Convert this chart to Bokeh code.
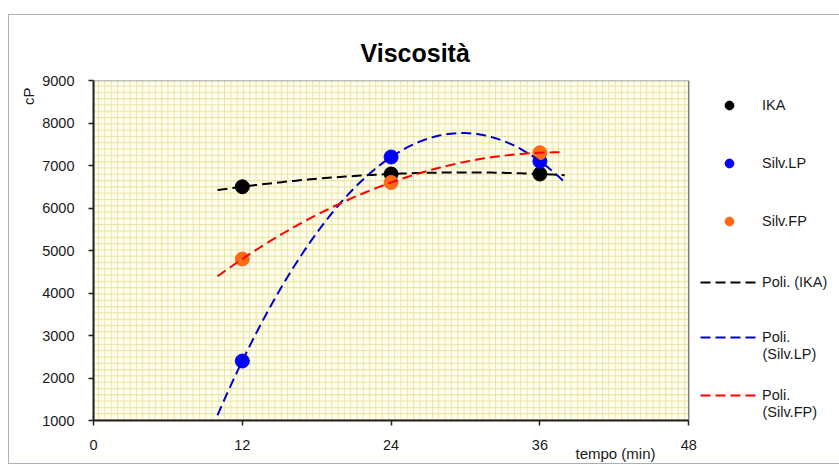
import numpy as np
from bokeh.plotting import figure
from bokeh.models import (Range1d, FixedTicker, Legend, LegendItem, Title, Label,
                          InlineStyleSheet)
from bokeh.embed import file_html
from bokeh.resources import INLINE

# ---- data ----
tempo = [12, 24, 36]
ika = [6500, 6800, 6800]
silv_lp = [2400, 7200, 7100]
silv_fp = [4800, 6600, 7300]
x_ticks = [0, 12, 24, 36, 48]
y_ticks = [1000, 2000, 3000, 4000, 5000, 6000, 7000, 8000, 9000]
series_names = ["IKA", "Silv.LP", "Silv.FP"]
trend_names = ["Poli. (IKA)", "Poli.", "Poli."]
trend_second_lines = ["", "(Silv.LP)", "(Silv.FP)"]
trend_span = [10, 38]

FONT = "Liberation Sans"
TXT = "#1a1a1a"
FRAME_L, FRAME_B = 93, 420   # canvas pixels of the frame's bottom-left corner

# frame extends to the right so the legend can live inside it;
# the axis itself is bounded to 0..48
p = figure(width=839, height=465, output_backend="svg", toolbar_location=None,
           x_range=Range1d(x_ticks[0], 60),
           y_range=Range1d(y_ticks[0], y_ticks[-1]),
           min_border_left=93, min_border_right=2,
           min_border_top=80, min_border_bottom=45)
p.background_fill_color = "white"
p.border_fill_color = "white"
p.grid.visible = False
p.outline_line_color = None

# thin outer chart border (decorative)
p.stylesheets = [InlineStyleSheet(css=(
    ":host::after { content: ''; position: absolute; left: 8px; top: 14px; "
    "right: -20px; bottom: 1px; border: 1px solid #A7B2BD; pointer-events: none; }"))]

# plot area with grid pattern
p.quad(left=[x_ticks[0]], right=[x_ticks[-1]], bottom=[y_ticks[0]], top=[y_ticks[-1]],
       fill_color="#FFFFF0", line_color="#808080", line_width=1.5, hatch_pattern="+",
       hatch_color="#E9E09A", hatch_scale=6.3, hatch_weight=1, hatch_alpha=0.9)

for ax in (p.xaxis[0], p.yaxis[0]):
    ax.axis_line_width = 2
    ax.axis_line_color = "#222222"
    ax.major_tick_line_color = "#222222"
    ax.major_tick_line_width = 1.5
    ax.major_tick_in = 0
    ax.major_tick_out = 5
    ax.minor_tick_line_color = None
    ax.major_label_text_font = FONT
    ax.major_label_text_font_size = "14.5px"
    ax.major_label_text_color = TXT
    ax.major_label_standoff = 14
p.xaxis.ticker = FixedTicker(ticks=x_ticks)
p.yaxis.ticker = FixedTicker(ticks=y_ticks)
p.xaxis.bounds = (x_ticks[0], x_ticks[-1])

marker_colors = ["black", "#0000FF", "#FF6A13"]
trend_colors = ["black", "#0000CC", "#FF0000"]
all_series = [ika, silv_lp, silv_fp]

marker_r = []
for vals, col in zip(all_series, marker_colors):
    marker_r.append(p.scatter(tempo, vals, size=14, color=col))

xs = np.linspace(trend_span[0], trend_span[1], 120)
trend_r = []
for vals, col in zip(all_series, trend_colors):
    coef = np.polyfit(tempo, vals, 2)
    trend_r.append(p.line(xs, np.polyval(coef, xs), line_color=col, line_width=2,
                          line_dash="10 5"))

# legend: one single-item legend per entry, placed individually
GH = 22
def add_item(label, renderer, center_y):
    lg = Legend(items=[LegendItem(label=label, renderers=[renderer])],
                location=(700 - FRAME_L, FRAME_B - (center_y + GH / 2)),
                padding=0, margin=0, spacing=0, border_line_color=None,
                background_fill_alpha=0, glyph_width=58, glyph_height=GH,
                label_height=GH, label_standoff=4,
                label_text_font=FONT, label_text_font_size="14.5px",
                label_text_color=TXT)
    p.add_layout(lg, "center")

centers_m = [105, 163, 221]
centers_t = [282, 337, 395]
for name, r, cy in zip(series_names, marker_r, centers_m):
    add_item(name, r, cy)
for name, r, cy, second in zip(trend_names, trend_r, centers_t, trend_second_lines):
    add_item(name, r, cy)
    if second:
        p.add_layout(Label(x=762 - FRAME_L, y=FRAME_B - (cy + 16), x_units="screen",
                           y_units="screen", text=second, text_font=FONT,
                           text_font_size="14.5px", text_color=TXT,
                           text_baseline="middle", text_align="left"))

# title and axis labels
p.add_layout(Title(text="Viscosità", align="left", offset=267, standoff=28,
                   text_font=FONT, text_font_size="25px", text_font_style="bold",
                   text_color="black"), "above")
p.add_layout(Title(text="cP", align="right", offset=7, standoff=6,
                   text_font=FONT, text_font_size="15px", text_font_style="normal",
                   text_color=TXT), "left")
p.add_layout(Title(text="tempo (min)", align="right", offset=182, standoff=-16,
                   vertical_align="top",
                   text_font=FONT, text_font_size="15px", text_font_style="normal",
                   text_color=TXT), "below")

open("out.html", "w").write(file_html(p, INLINE))
